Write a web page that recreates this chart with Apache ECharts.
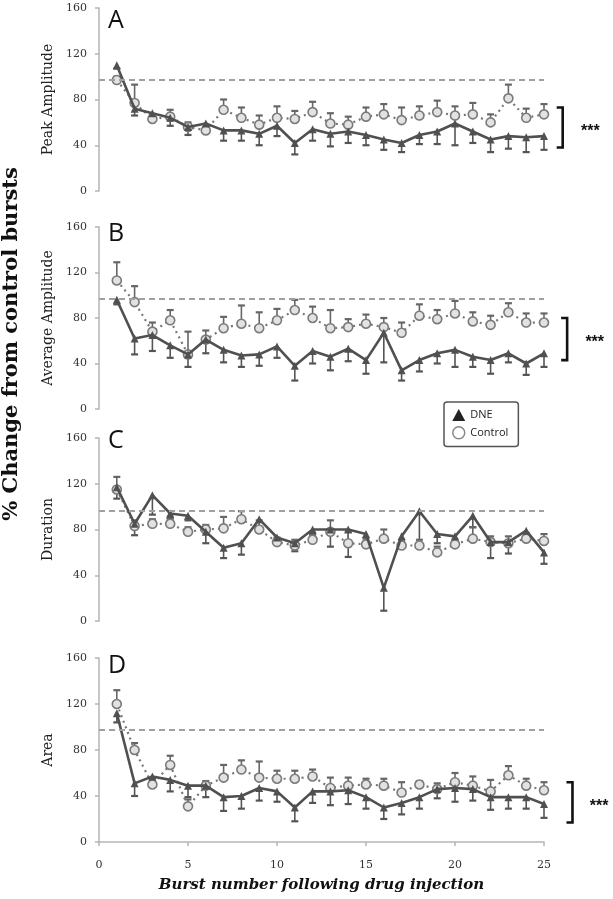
<!DOCTYPE html>
<html>
<head>
<meta charset="utf-8">
<script src="https://cdn.jsdelivr.net/npm/echarts@6/dist/echarts.min.js"></script>
<style>
html,body{margin:0;padding:0;background:#fff;}
#chart{width:613px;height:899px;}
</style>
</head>
<body>
<div id="chart"></div>
<script>
// ---- data ----
const bursts = [1,2,3,4,5,6,7,8,9,10,11,12,13,14,15,16,17,18,19,20,21,22,23,24,25];
const panelLetters = ['A','B','C','D'];
const panelNames = ['Peak Amplitude','Average Amplitude','Duration','Area'];
const yTicks = [0,40,80,120,160];
const xTicks = [0,5,10,15,20,25];
const refLine = [97, 97, 96, 98];

const A_DNE      = [110,72,68,64,56,59,53,53,50,57,42,54,50,52,49,45,42,49,52,59,52,45,48,47,48];
const A_DNE_err  = [3,6,5,7,7,5,9,9,10,9,10,10,11,10,9,9,8,8,11,19,10,11,11,13,12];
const A_CTRL     = [97,77,63,65,56,53,71,64,58,64,63,69,59,58,65,67,62,66,69,66,67,60,81,64,67];
const A_CTRL_err = [3,16,4,6,4,3,9,9,8,10,7,9,9,7,8,9,11,8,10,8,10,7,12,8,9];

const B_DNE      = [96,62,65,56,48,61,52,47,48,55,38,51,46,53,43,67,34,43,49,52,46,43,49,40,49];
const B_DNE_err  = [4,14,14,11,11,12,11,10,10,10,13,11,12,11,12,26,9,10,9,15,9,12,8,10,12];
const B_CTRL     = [113,94,68,78,48,61,71,75,71,78,87,80,71,72,75,72,67,82,79,84,77,74,85,76,76];
const B_CTRL_err = [16,14,8,9,20,8,10,16,14,10,9,10,16,7,8,8,9,10,8,11,8,8,8,8,8];

const C_DNE      = [117,85,110,94,92,78,64,68,89,73,68,80,80,80,76,29,74,96,76,74,92,69,69,79,60];
const C_DNE_err  = [10,10,17,4,4,10,9,10,8,6,7,4,15,24,10,20,5,28,8,5,10,14,10,6,10];
const C_CTRL     = [115,83,85,85,78,80,81,89,80,69,66,71,78,68,67,72,66,66,60,67,72,69,68,72,70];
const C_CTRL_err = [11,5,4,4,4,4,10,7,8,4,5,4,10,10,5,8,5,5,5,4,10,5,6,5,6];

const D_DNE      = [112,51,57,54,49,49,39,40,47,44,30,44,44,45,39,30,34,39,46,47,46,39,39,39,33];
const D_DNE_err  = [8,11,4,10,10,10,12,11,11,9,12,10,12,12,10,10,10,10,8,12,10,11,10,10,12];
const D_CTRL     = [120,80,50,67,31,49,56,63,56,55,55,57,47,49,50,49,43,50,46,52,49,44,58,49,45];
const D_CTRL_err = [12,6,5,8,6,4,11,8,14,7,7,6,9,7,5,6,9,3,5,8,8,10,8,6,7];

const dneSets  = [A_DNE, B_DNE, C_DNE, D_DNE];
const dneErrs  = [A_DNE_err, B_DNE_err, C_DNE_err, D_DNE_err];
const ctrlSets = [A_CTRL, B_CTRL, C_CTRL, D_CTRL];
const ctrlErrs = [A_CTRL_err, B_CTRL_err, C_CTRL_err, D_CTRL_err];

// significance brackets: panel index, low, high
const sigPanels = [0, 1, 3];
const sigLow    = [38, 43, 17];
const sigHigh   = [73, 80, 52];
const sigLabel  = '***';

// ---- layout ----
const gridTops = [8, 227, 438, 658];
const gridHeights = [183, 182, 183, 184];
const bracketX = [26.05, 26.3, 26.6];
const starX = [27.6, 27.85, 28.1];
const letterTops = [8, 221, 428, 653];

const serif = '"DejaVu Serif", serif';
const sans = '"Open Sans", "Liberation Sans", sans-serif';

const chart = echarts.init(document.getElementById('chart'), null, {renderer:'canvas'});

const grids = [], xAxes = [], yAxes = [], series = [], titles = [];

function errRender(color) {
  return function (params, api) {
    const x = api.value(0), y = api.value(1), y2 = api.value(2);
    const p1 = api.coord([x, y]), p2 = api.coord([x, y2]);
    return {
      type: 'group',
      children: [
        {type:'line', shape:{x1:p1[0], y1:p1[1], x2:p2[0], y2:p2[1]}, style:{stroke:color, lineWidth:1.6}},
        {type:'line', shape:{x1:p2[0]-3.5, y1:p2[1], x2:p2[0]+3.5, y2:p2[1]}, style:{stroke:color, lineWidth:2.2}}
      ]
    };
  };
}

for (let i = 0; i < 4; i++) {
  grids.push({left: 99, width: 445, top: gridTops[i], height: gridHeights[i]});
  const isLast = i === 3;
  xAxes.push({
    type: 'value', gridIndex: i, min: 0, max: 25, interval: 5,
    axisLine: {show: isLast, lineStyle: {color: '#b5b5b5', width: 1.5}},
    axisTick: {show: isLast, length: 4, lineStyle: {color: '#b5b5b5', width: 1.5}},
    axisLabel: {show: isLast, margin: 18, fontSize: 11, color: '#333', fontFamily: serif},
    splitLine: {show: false},
    name: isLast ? 'Burst number following drug injection' : '',
    nameLocation: 'middle', nameGap: 36,
    nameTextStyle: {fontFamily: serif, fontWeight: 'bold', fontStyle: 'italic', fontSize: 15, color: '#111'}
  });
  yAxes.push({
    type: 'value', gridIndex: i, min: yTicks[0], max: yTicks[yTicks.length-1], interval: 40,
    axisLine: {show: true, lineStyle: {color: '#b5b5b5', width: 1.5}},
    axisTick: {show: true, length: 4, lineStyle: {color: '#b5b5b5', width: 1.5}},
    axisLabel: {margin: 12, fontSize: 11, color: '#333', fontFamily: serif},
    splitLine: {show: false},
    name: panelNames[i], nameLocation: 'middle', nameGap: 18, nameRotate: 90,
    nameTextStyle: {fontFamily: serif, fontSize: 14, color: '#222'}
  });
  titles.push({text: panelLetters[i], left: 108, top: letterTops[i], padding: 0,
    textStyle: {fontFamily: sans, fontWeight: 'normal', fontSize: 25, color: '#111'}});

  const dne = dneSets[i], ctrl = ctrlSets[i];
  series.push({
    type: 'custom', xAxisIndex: i, yAxisIndex: i, z: 1, silent: true,
    renderItem: errRender('#555'),
    encode: {x: 0, y: [1, 2]},
    data: bursts.map((b, k) => [b, dne[k], dne[k] - dneErrs[i][k]])
  });
  series.push({
    type: 'custom', xAxisIndex: i, yAxisIndex: i, z: 1, silent: true,
    renderItem: errRender('#666'),
    encode: {x: 0, y: [1, 2]},
    data: bursts.map((b, k) => [b, ctrl[k], ctrl[k] + ctrlErrs[i][k]])
  });
  series.push({
    name: 'Control', type: 'line', xAxisIndex: i, yAxisIndex: i, z: 2,
    data: bursts.map((b, k) => [b, ctrl[k]]),
    symbol: 'circle', symbolSize: 9, showSymbol: true,
    lineStyle: {color: '#777', width: 2.2, type: [2, 4]},
    itemStyle: {color: '#e2e2e2', borderColor: '#7a7a7a', borderWidth: 1.6},
    animation: false
  });
  series.push({
    name: 'DNE', type: 'line', xAxisIndex: i, yAxisIndex: i, z: 3,
    data: bursts.map((b, k) => [b, dne[k]]),
    symbol: 'triangle', symbolSize: 8,
    lineStyle: {color: '#505050', width: 2.6},
    itemStyle: {color: '#505050'},
    animation: false,
    markLine: {
      silent: true, symbol: ['none', 'none'], label: {show: false},
      lineStyle: {color: '#a0a0a0', width: 2, type: [6, 4]},
      data: [{yAxis: refLine[i]}]
    }
  });
}

// significance brackets
sigPanels.forEach((p, j) => {
  series.push({
    type: 'custom', xAxisIndex: p, yAxisIndex: p, silent: true, clip: false, z: 5,
    encode: {x: 0, y: [1, 2]},
    data: [[bracketX[j], sigLow[j], sigHigh[j], starX[j]]],
    renderItem: function (params, api) {
      const xb = api.value(0), lo = api.value(1), hi = api.value(2), xs = api.value(3);
      const pLo = api.coord([xb, lo]), pHi = api.coord([xb, hi]);
      const pS = api.coord([xs, (lo + hi) / 2]);
      return {
        type: 'group',
        children: [
          {type: 'polyline', shape: {points: [[pHi[0]-6, pHi[1]], [pHi[0], pHi[1]], [pLo[0], pLo[1]], [pLo[0]-6, pLo[1]]]},
            style: {stroke: '#111', lineWidth: 2.6, fill: null}},
          {type: 'text', x: pS[0], y: pS[1] + 4,
            style: {text: sigLabel, fill: '#111', font: 'bold 16px "Liberation Sans", sans-serif', align: 'center', verticalAlign: 'middle'}}
        ]
      };
    }
  });
});

chart.setOption({
  animation: false,
  backgroundColor: '#fff',
  title: titles,
  grid: grids,
  xAxis: xAxes,
  yAxis: yAxes,
  legend: {
    orient: 'vertical', left: 444, top: 402,
    padding: [7, 10, 7, 8], itemWidth: 13, itemHeight: 12, itemGap: 5,
    borderColor: '#555', borderWidth: 1.5, borderRadius: 3, backgroundColor: '#fff',
    textStyle: {fontFamily: sans, fontSize: 11, color: '#222'},
    data: [
      {name: 'DNE', icon: 'triangle', itemStyle: {color: '#222', borderWidth: 0}},
      {name: 'Control', icon: 'circle', itemStyle: {color: '#fff', borderColor: '#888', borderWidth: 1.5}}
    ]
  },
  graphic: [{
    type: 'text', x: 12, y: 344, rotation: Math.PI / 2,
    style: {text: '% Change from control bursts', font: 'bold 21px "DejaVu Serif", serif', fill: '#111', align: 'center', verticalAlign: 'middle'}
  }],
  series: series
});
</script>
</body>
</html>
